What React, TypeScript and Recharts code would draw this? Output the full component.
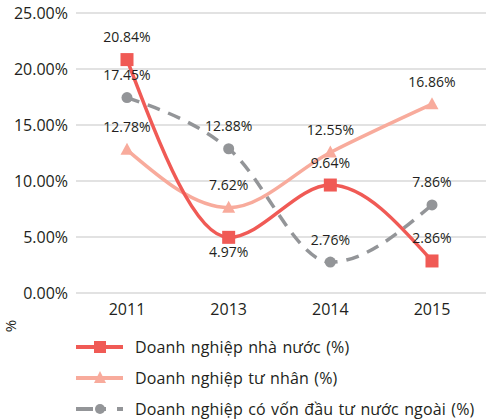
import React from "react";
import { LineChart, Line, XAxis, YAxis, CartesianGrid, LabelList } from "recharts";

const years = ["2011", "2013", "2014", "2015"];
const stateOwned = [20.84, 4.97, 9.64, 2.86];
const privateSector = [12.78, 7.62, 12.55, 16.86];
const foreignInvested = [17.45, 12.88, 2.76, 7.86];
const yTicks = [0, 5, 10, 15, 20, 25];

const seriesNames = [
  "Doanh nghiệp nhà nước (%)",
  "Doanh nghiệp tư nhân (%)",
  "Doanh nghiệp có vốn đầu tư nước ngoài (%)",
];

const RED = "#f05a55";
const PINK = "#f8ab9c";
const GRAY = "#939598";
const FONT = "'Open Sans', 'Noto Sans', sans-serif";

const data = years.map((year, i) => ({
  year,
  stateOwned: stateOwned[i],
  privateSector: privateSector[i],
  foreignInvested: foreignInvested[i],
}));

// where each point's value label sits
const redLabelPos = ["top", "bottom", "top", "top"];

const makeLabel = (pos?: string[]) => (props: any) => {
  const { x, y, value, index } = props;
  const below = pos && pos[index] === "bottom";
  return (
    <text
      x={x}
      y={below ? y + 14 : y - 23}
      textAnchor="middle"
      dominantBaseline="central"
      fontSize={14}
      fontFamily={FONT}
      fill="#231f20"
    >
      {Number(value).toFixed(2)}%
    </text>
  );
};

const SquareDot = (props: any) => {
  const { cx, cy } = props;
  return <rect x={cx - 6.5} y={cy - 6.5} width={13} height={13} fill={RED} />;
};

const TriangleDot = (props: any) => {
  const { cx, cy } = props;
  return (
    <polygon
      points={`${cx},${cy - 7} ${cx - 6.5},${cy + 5} ${cx + 6.5},${cy + 5}`}
      fill={PINK}
    />
  );
};

const CircleDot = (props: any) => {
  const { cx, cy } = props;
  return <circle cx={cx} cy={cy} r={5.5} fill={GRAY} />;
};

const LegendRow = ({ color, marker, label }: any) => (
  <div style={{ display: "flex", alignItems: "center", height: 31 }}>
    <svg width={59} height={16} style={{ marginLeft: 76, flexShrink: 0 }}>
      {marker === "circle" ? (
        <>
          <line x1={0} y1={8} x2={17} y2={8} stroke={color} strokeWidth={4} />
          <line x1={20} y1={8} x2={30} y2={8} stroke={color} strokeWidth={4} />
          <line x1={41} y1={8} x2={47} y2={8} stroke={color} strokeWidth={4} />
          <circle cx={24} cy={8} r={5} fill={color} />
        </>
      ) : (
        <line x1={0} y1={8} x2={47} y2={8} stroke={color} strokeWidth={4} />
      )}
      {marker === "square" && <rect x={18} y={2} width={12} height={12} fill={color} />}
      {marker === "triangle" && <polygon points="24,1 18,13 30,13" fill={color} />}
    </svg>
    <span
      style={{
        fontFamily: FONT,
        fontSize: 16,
        letterSpacing: 0.15,
        wordSpacing: 1,
        color: "#231f20",
        whiteSpace: "nowrap",
      }}
    >
      {label}
    </span>
  </div>
);

export default function App() {
  return (
    <div
      style={{
        position: "fixed",
        left: 0,
        top: 0,
        width: 486,
        height: 419,
        background: "#fff",
        overflow: "hidden",
      }}
    >
      <LineChart
        width={486}
        height={325}
        data={data}
        margin={{ top: 13, right: 0, bottom: 2, left: 0 }}
      >
        <CartesianGrid vertical={false} stroke="#d9d9d9" strokeWidth={1.5} />
        <XAxis
          dataKey="year"
          axisLine={false}
          tickLine={false}
          padding={{ left: 51, right: 54 }}
          tick={{ fontSize: 16, fontFamily: FONT, fill: "#231f20" }}
          tickMargin={5}
          height={30}
        />
        <YAxis
          domain={[0, 25]}
          ticks={yTicks}
          axisLine={false}
          tickLine={false}
          width={76}
          tickFormatter={(v: number) => `${v.toFixed(2)}%`}
          tick={{ fontSize: 16, fontFamily: FONT, fill: "#231f20" }}
          tickMargin={2}
        />
        <Line
          type="monotone"
          dataKey="foreignInvested"
          stroke={GRAY}
          strokeWidth={3.5}
          strokeDasharray="13 9"
          dot={<CircleDot />}
          activeDot={false}
          isAnimationActive={false}
        >
          <LabelList dataKey="foreignInvested" content={makeLabel()} />
        </Line>
        <Line
          type="monotone"
          dataKey="privateSector"
          stroke={PINK}
          strokeWidth={3.5}
          dot={<TriangleDot />}
          activeDot={false}
          isAnimationActive={false}
        >
          <LabelList dataKey="privateSector" content={makeLabel()} />
        </Line>
        <Line
          type="monotone"
          dataKey="stateOwned"
          stroke={RED}
          strokeWidth={3.5}
          dot={<SquareDot />}
          activeDot={false}
          isAnimationActive={false}
        >
          <LabelList dataKey="stateOwned" content={makeLabel(redLabelPos)} />
        </Line>
      </LineChart>
      <span
        style={{
          position: "absolute",
          left: 4,
          top: 318,
          display: "inline-block",
          transform: "rotate(-90deg)",
          fontFamily: FONT,
          fontSize: 15,
          lineHeight: "16px",
          color: "#231f20",
        }}
      >
        %
      </span>
      <div style={{ position: "absolute", left: 0, top: 331 }}>
        <LegendRow color={RED} marker="square" label={seriesNames[0]} />
        <LegendRow color={PINK} marker="triangle" label={seriesNames[1]} />
        <LegendRow color={GRAY} marker="circle" label={seriesNames[2]} />
      </div>
    </div>
  );
}
